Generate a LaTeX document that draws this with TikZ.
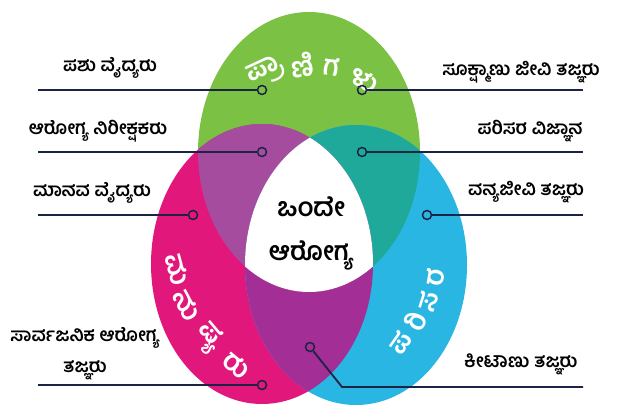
\documentclass[tikz,border=0pt]{standalone}
\usepackage{fontspec}
\newfontfamily\kn[Script=Kannada]{Hind Mysuru}
\usetikzlibrary{positioning}

\definecolor{leafgreen}{HTML}{7BC143}
\definecolor{humanpink}{HTML}{E1177B}
\definecolor{envblue}{HTML}{2AB6E2}
\definecolor{pgmix}{HTML}{A64C9E}
\definecolor{gbmix}{HTML}{1FA99A}
\definecolor{pbmix}{HTML}{A32E96}
\definecolor{leadcol}{HTML}{1C2445}

\begin{document}
\begin{tikzpicture}[x=1pt,y=1pt,
  egg/.style={x radius=111,y radius=140},
  lead/.style={draw=leadcol,line width=1.8pt},
  dot/.style={circle,draw=leadcol,line width=1.5pt,minimum size=9pt,inner sep=0pt},
  lbl/.style={font=\kn\bfseries\fontsize{18.5}{31}\selectfont,text=black,inner sep=1pt,align=center},
  ring/.style={font=\kn\bfseries\fontsize{28}{30}\selectfont,text=white,inner sep=0pt},
  hub/.style={font=\kn\bfseries\fontsize{26}{44}\selectfont,text=black,align=center}]
\useasboundingbox (0,0) rectangle (620,-419);

% three sets
\coordinate (gc) at (309,-152);
\coordinate (pc) at (262,-264);
\coordinate (bc) at (356,-265);
\fill[leafgreen] (gc) ellipse [egg];
\fill[humanpink] (pc) ellipse [egg];
\fill[envblue] (bc) ellipse [egg];
\begin{scope}
  \clip (pc) ellipse [egg];
  \fill[pgmix] (gc) ellipse [egg];
\end{scope}
\begin{scope}
  \clip (bc) ellipse [egg];
  \fill[gbmix] (gc) ellipse [egg];
\end{scope}
\begin{scope}
  \clip (pc) ellipse [egg];
  \fill[pbmix] (bc) ellipse [egg];
  \clip (bc) ellipse [egg];
  \fill[white] (gc) ellipse [egg];
\end{scope}

% set names
\node[ring,rotate=25] (g1) at (266,-72) {ಪ್ರಾ};
\node[ring,rotate=8] (g2) at (302,-65) {ಣಿ};
\node[ring,rotate=-8] (g3) at (332,-67) {ಗ};
\node[ring,rotate=-30] (g4) at (364,-80) {ಳು};
\node[ring,rotate=-75] (p1) at (177,-270) {ಮ};
\node[ring,rotate=-62] (p2) at (187,-305) {ನು};
\node[ring,rotate=-50] (p3) at (209,-337) {ಷ್ಯ};
\node[ring,rotate=-40] (p4) at (237,-365) {ರು};
\node[ring,rotate=55] (b1) at (400,-343) {ಪ};
\node[ring,rotate=65] (b2) at (415,-321) {ರಿ};
\node[ring,rotate=72] (b3) at (428,-301) {ಸ};
\node[ring,rotate=80] (b4) at (435,-277) {ರ};

\node[hub] (hub) at (311,-233) {ಒಂದೇ\\ಆರೋಗ್ಯ};

% left leads
\node[dot] (d1) at (262,-90) {};
\node[dot] (d2) at (262,-152) {};
\node[dot] (d3) at (193,-215) {};
\node[dot] (d4) at (262,-385) {};
\coordinate (e1) at (38,-90);
\coordinate (e2) at (38,-152);
\coordinate (e3) at (38,-215);
\coordinate (e4) at (38,-385);
\draw[lead] (e1) -- (d1);
\draw[lead] (e2) -- (d2);
\draw[lead] (e3) -- (d3);
\draw[lead] (e4) -- (d4);
\node[lbl] (t1) at (110,-68) {ಪಶು ವೈದ್ಯರು};
\node[lbl] (t2) at (98,-131) {ಆರೋಗ್ಯ ನಿರೀಕ್ಷಕರು};
\node[lbl] (t3) at (92,-193) {ಮಾನವ ವೈದ್ಯರು};
\node[lbl] (t4) at (85,-354) {ಸಾರ್ವಜನಿಕ ಆರೋಗ್ಯ\\ತಜ್ಞರು};

% right leads
\node[dot] (d5) at (362,-90) {};
\node[dot] (d6) at (362,-152) {};
\node[dot] (d7) at (427,-215) {};
\node[dot] (d8) at (310,-347) {};
\coordinate (e5) at (583,-90);
\coordinate (e6) at (583,-152);
\coordinate (e7) at (583,-215);
\coordinate (k8) at (342,-387);
\coordinate (e8) at (583,-387);
\draw[lead] (d5) -- (e5);
\draw[lead] (d6) -- (e6);
\draw[lead] (d7) -- (e7);
\draw[lead] (d8) -- (k8) -- (e8);
\node[lbl] (t5) at (521,-72) {ಸೂಕ್ಷ್ಮಾಣು ಜೀವಿ ತಜ್ಞರು};
\node[lbl] (t6) at (530,-131) {ಪರಿಸರ ವಿಜ್ಞಾನ};
\node[lbl] (t7) at (526,-192) {ವನ್ಯಜೀವಿ ತಜ್ಞರು};
\node[lbl] (t8) at (521,-364) {ಕೀಟಾಣು ತಜ್ಞರು};
\end{tikzpicture}
\end{document}
